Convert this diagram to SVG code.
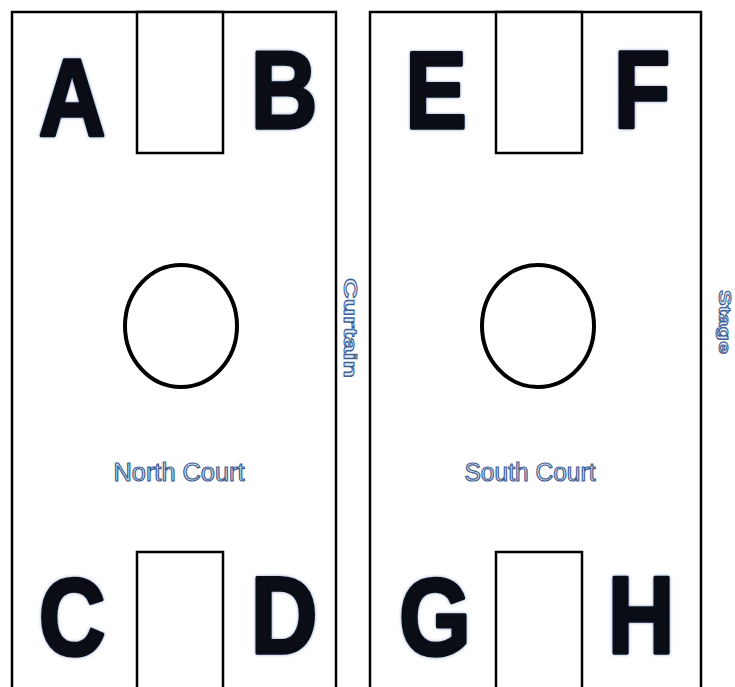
<svg xmlns="http://www.w3.org/2000/svg" width="735" height="687" viewBox="0 0 735 687">
<defs>
<filter id="glow" x="-20%" y="-20%" width="140%" height="140%">
<feGaussianBlur in="SourceAlpha" stdDeviation="1.5" result="b"/>
<feFlood flood-color="#3a5a9a" flood-opacity="0.6"/>
<feComposite in2="b" operator="in" result="s"/>
<feMerge><feMergeNode in="s"/><feMergeNode in="SourceGraphic"/></feMerge>
</filter>
</defs>
<style>
.court{fill:#ffffff;stroke:#000;stroke-width:2.5}
.box{fill:#ffffff;stroke:#000;stroke-width:2.5}
.circ{fill:none;stroke:#000;stroke-width:4}
.letter{font-family:"Liberation Sans",Arial,sans-serif;font-weight:bold;font-size:110px;fill:#070b18;stroke:#070b18;stroke-width:3.5;stroke-linejoin:round;text-anchor:middle}
.lbl{font-family:"Liberation Sans",Arial,sans-serif;font-size:25px;fill:#dfe8f5;stroke:#3f5f92;stroke-width:1.2;text-anchor:middle}
.vlbl{font-family:"Liberation Sans",Arial,sans-serif;font-weight:bold;font-size:19px;fill:#dfe8f5;stroke:#3f5f92;stroke-width:1;text-anchor:middle}
</style>
<rect width="735" height="687" fill="#ffffff"/>
<g id="north-court">
<rect class="court" x="12" y="12" width="324" height="690"/>
<rect class="box" x="137" y="12" width="86" height="141"/>
<rect class="box" x="137" y="552" width="86" height="150"/>
<ellipse class="circ" cx="181" cy="326" rx="56" ry="61"/>
<text class="lbl" x="179" y="481" textLength="131" lengthAdjust="spacingAndGlyphs">North Court</text>
<g filter="url(#glow)">
<text class="letter" transform="translate(72,135) scale(0.84,1)">A</text>
<text class="letter" transform="translate(284,128) scale(0.84,1)">B</text>
<text class="letter" transform="translate(72,655) scale(0.84,1)">C</text>
<text class="letter" transform="translate(284,653) scale(0.84,1)">D</text>
</g>
</g>
<g id="south-court">
<rect class="court" x="370" y="12" width="331" height="690"/>
<rect class="box" x="496" y="12" width="86" height="141"/>
<rect class="box" x="496" y="552" width="86" height="150"/>
<ellipse class="circ" cx="538" cy="326" rx="56" ry="61"/>
<text class="lbl" x="530" y="481" textLength="131" lengthAdjust="spacingAndGlyphs">South Court</text>
<g filter="url(#glow)">
<text class="letter" transform="translate(436,128) scale(0.84,1)">E</text>
<text class="letter" transform="translate(642,128) scale(0.84,1)">F</text>
<text class="letter" transform="translate(435,655) scale(0.84,1)">G</text>
<text class="letter" transform="translate(641,653) scale(0.84,1)">H</text>
</g>
</g>
<g id="curtain">
<text class="vlbl" transform="translate(344,328) rotate(90)" textLength="100" lengthAdjust="spacingAndGlyphs">Curtain</text>
</g>
<g id="stage">
<text class="vlbl" transform="translate(719,322) rotate(90)" textLength="64" lengthAdjust="spacingAndGlyphs" style="font-size:17px">Stage</text>
</g>
</svg>
